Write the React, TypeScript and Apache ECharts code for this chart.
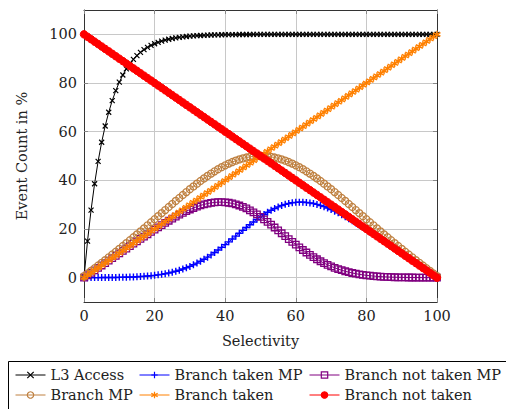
import React, { useEffect, useRef } from "react";
import * as echarts from "echarts";

const selectivity = [
  0, 1, 2, 3, 4, 5, 6, 7, 8, 9, 10, 11, 12, 13, 14, 15, 16, 17, 18, 19,
  20, 21, 22, 23, 24, 25, 26, 27, 28, 29, 30, 31, 32, 33, 34, 35, 36, 37, 38, 39,
  40, 41, 42, 43, 44, 45, 46, 47, 48, 49, 50, 51, 52, 53, 54, 55, 56, 57, 58, 59,
  60, 61, 62, 63, 64, 65, 66, 67, 68, 69, 70, 71, 72, 73, 74, 75, 76, 77, 78, 79,
  80, 81, 82, 83, 84, 85, 86, 87, 88, 89, 90, 91, 92, 93, 94, 95, 96, 97, 98, 99, 100,
];

const l3Access = [
  0, 15.01, 27.77, 38.61, 47.82, 55.65, 62.31, 67.97, 72.78, 76.86,
  80.34, 83.29, 85.8, 87.93, 89.74, 91.28, 92.59, 93.7, 94.65, 95.45,
  96.13, 96.71, 97.21, 97.63, 97.98, 98.29, 98.54, 98.76, 98.95, 99.1,
  99.24, 99.35, 99.45, 99.53, 99.6, 99.66, 99.71, 99.76, 99.79, 99.82,
  99.85, 99.87, 99.89, 99.91, 99.92, 99.93, 99.94, 99.95, 99.96, 99.97,
  99.97, 99.98, 99.98, 99.98, 99.98, 99.98, 99.99, 99.99, 99.99, 99.99,
  99.99, 99.99, 99.99, 99.99, 99.99, 100, 100, 100, 100, 100,
  100, 100, 100, 100, 100, 100, 100, 100, 100, 100,
  100, 100, 100, 100, 100, 100, 100, 100, 100, 100,
  100, 100, 100, 100, 100, 100, 100, 100, 100, 100, 100,
];

const branchTakenMP = [
  0.01, 0.01, 0.02, 0.02, 0.03, 0.04, 0.05, 0.06, 0.07, 0.09,
  0.12, 0.15, 0.18, 0.23, 0.29, 0.36, 0.45, 0.54, 0.66, 0.8,
  0.96, 1.15, 1.37, 1.63, 1.92, 2.26, 2.63, 3.06, 3.54, 4.06,
  4.64, 5.29, 5.98, 6.74, 7.56, 8.43, 9.36, 10.34, 11.37, 12.45,
  13.57, 14.71, 15.88, 17.06, 18.26, 19.44, 20.62, 21.77, 22.89, 23.97,
  25.0,
  25.97, 26.87, 27.69, 28.44, 29.09, 29.66, 30.13, 30.5, 30.78, 30.96,
  31.04, 31.03, 30.92, 30.73, 30.46, 30.11, 29.68, 29.18, 28.63, 28.01,
  27.34, 26.63, 25.87, 25.07, 24.25, 23.39, 22.51, 21.61, 20.69, 19.76,
  18.81, 17.85, 16.89, 15.92, 14.94, 13.95, 12.96, 11.97, 10.98, 9.99,
  8.99, 7.99, 7.0, 6.0, 5.0, 4.0, 3.0, 2.0, 1.0, 0.0,
];

const branchNotTakenMP = [
  0.0, 1.0, 2.0, 3.0, 4.0, 5.0, 6.0, 7.0, 7.99, 8.99,
  9.99, 10.98, 11.97, 12.96, 13.95, 14.94, 15.92, 16.89, 17.85, 18.81,
  19.76, 20.69, 21.61, 22.51, 23.39, 24.25, 25.07, 25.87, 26.63, 27.34,
  28.01, 28.63, 29.18, 29.68, 30.11, 30.46, 30.73, 30.92, 31.03, 31.04,
  30.96, 30.78, 30.5, 30.13, 29.66, 29.09, 28.44, 27.69, 26.87, 25.97,
  25.0,
  23.97, 22.89, 21.77, 20.62, 19.44, 18.26, 17.06, 15.88, 14.71, 13.57,
  12.45, 11.37, 10.34, 9.36, 8.43, 7.56, 6.74, 5.98, 5.29, 4.64,
  4.06, 3.54, 3.06, 2.63, 2.26, 1.92, 1.63, 1.37, 1.15, 0.96,
  0.8, 0.66, 0.54, 0.45, 0.36, 0.29, 0.23, 0.18, 0.15, 0.12,
  0.09, 0.07, 0.06, 0.05, 0.04, 0.03, 0.02, 0.02, 0.01, 0.01,
];

const branchMP = [
  0.62, 1.7, 2.79, 3.88, 4.98, 6.1, 7.22, 8.36, 9.5, 10.66,
  11.82, 13.0, 14.18, 15.38, 16.59, 17.8, 19.03, 20.26, 21.51, 22.75,
  24.01, 25.27, 26.52, 27.78, 29.03, 30.28, 31.52, 32.75, 33.97, 35.17,
  36.35, 37.5, 38.63, 39.72, 40.78, 41.8, 42.77, 43.7, 44.58, 45.41,
  46.17, 46.87, 47.51, 48.08, 48.59, 49.01, 49.37, 49.64, 49.84, 49.96,
  50.0,
  49.96, 49.84, 49.64, 49.37, 49.01, 48.59, 48.08, 47.51, 46.87, 46.17,
  45.41, 44.58, 43.7, 42.77, 41.8, 40.78, 39.72, 38.63, 37.5, 36.35,
  35.17, 33.97, 32.75, 31.52, 30.28, 29.03, 27.78, 26.52, 25.27, 24.01,
  22.75, 21.51, 20.26, 19.03, 17.8, 16.59, 15.38, 14.18, 13.0, 11.82,
  10.66, 9.5, 8.36, 7.22, 6.1, 4.98, 3.88, 2.79, 1.7, 0.62,
];

const branchTaken = [
  0, 1, 2, 3, 4, 5, 6, 7, 8, 9, 10, 11, 12, 13, 14, 15, 16, 17, 18, 19,
  20, 21, 22, 23, 24, 25, 26, 27, 28, 29, 30, 31, 32, 33, 34, 35, 36, 37, 38, 39,
  40, 41, 42, 43, 44, 45, 46, 47, 48, 49, 50, 51, 52, 53, 54, 55, 56, 57, 58, 59,
  60, 61, 62, 63, 64, 65, 66, 67, 68, 69, 70, 71, 72, 73, 74, 75, 76, 77, 78, 79,
  80, 81, 82, 83, 84, 85, 86, 87, 88, 89, 90, 91, 92, 93, 94, 95, 96, 97, 98, 99, 100,
];

const branchNotTaken = [
  100, 99, 98, 97, 96, 95, 94, 93, 92, 91, 90, 89, 88, 87, 86, 85, 84, 83, 82, 81,
  80, 79, 78, 77, 76, 75, 74, 73, 72, 71, 70, 69, 68, 67, 66, 65, 64, 63, 62, 61,
  60, 59, 58, 57, 56, 55, 54, 53, 52, 51, 50, 49, 48, 47, 46, 45, 44, 43, 42, 41,
  40, 39, 38, 37, 36, 35, 34, 33, 32, 31, 30, 29, 28, 27, 26, 25, 24, 23, 22, 21,
  20, 19, 18, 17, 16, 15, 14, 13, 12, 11, 10, 9, 8, 7, 6, 5, 4, 3, 2, 1, 0,
];

const yTicks = [0, 20, 40, 60, 80, 100];

const legendRows = [
  ["L3 Access", "Branch taken MP", "Branch not taken MP"],
  ["Branch MP", "Branch taken", "Branch not taken"],
];

export default function App() {
  const ref = useRef<HTMLDivElement>(null);

  useEffect(() => {
    document.body.style.margin = "0";
    const chart = echarts.init(ref.current!, null, { renderer: "svg" });
    const font = "DejaVu Serif";
    const fs = 14.5;
    const pair = (ys: number[]) => selectivity.map((x, i) => [x, ys[i]]);

    const cross = "path://M0,0L10,10M10,0L0,10";
    const plus = "path://M5,0L5,10M0,5L10,5";
    const star = "path://M5,0L5,10M0.67,2.5L9.33,7.5M0.67,7.5L9.33,2.5";

    const mk = (
      name: string,
      ys: number[],
      color: string,
      symbol: string,
      size: number,
      fill: string,
      bw: number
    ) => ({
      name,
      type: "line",
      data: pair(ys),
      symbol,
      symbolSize: size,
      showAllSymbol: true,
      lineStyle: { color, width: 1 },
      itemStyle: { color: fill, borderColor: color, borderWidth: bw },
      emphasis: { disabled: true },
    });

    const axisLineStyle = { color: "#333", width: 1 };
    const tickStyle = { color: "#888", width: 1 };
    const gridLine = { color: "#c8c8c8", width: 1 };
    const labelStyle = { fontFamily: font, fontSize: fs, color: "#222" };

    const legendCols = [15, 139, 309];
    const legendTops = [375, 395];
    const legends: any[] = [];
    legendRows.forEach((row, r) =>
      row.forEach((name, c) =>
        legends.push({
          data: [name],
          left: legendCols[c],
          top: legendTops[r] - 9,
          padding: 0,
          itemWidth: 30,
          itemHeight: 8,
          selectedMode: false,
          itemStyle: { borderWidth: 1.2 },
          lineStyle: { width: 1 },
          textStyle: { fontFamily: font, fontSize: fs, color: "#222", lineHeight: 18 },
        })
      )
    );

    chart.setOption({
      animation: false,
      textStyle: { fontFamily: font },
      grid: { left: 84, right: 69, top: 10, bottom: 107, containLabel: false },
      xAxis: [
        {
          type: "value",
          min: 0,
          max: 100,
          interval: 20,
          position: "bottom",
          axisLine: { show: true, onZero: false, lineStyle: axisLineStyle },
          axisTick: { show: true, inside: true, length: 4, lineStyle: tickStyle },
          axisLabel: { ...labelStyle, margin: 6 },
          splitLine: { show: true, lineStyle: gridLine },
          name: "Selectivity",
          nameLocation: "middle",
          nameGap: 31,
          nameTextStyle: { fontFamily: font, fontSize: fs, color: "#222" },
        },
        {
          type: "value",
          min: 0,
          max: 100,
          interval: 20,
          position: "top",
          axisLine: { show: true, onZero: false, lineStyle: axisLineStyle },
          axisTick: { show: true, inside: true, length: 4, lineStyle: tickStyle },
          axisLabel: { show: false },
          splitLine: { show: false },
        },
      ],
      yAxis: [
        {
          type: "value",
          min: -10,
          max: 110,
          position: "left",
          axisLine: { show: true, onZero: false, lineStyle: axisLineStyle },
          axisTick: { show: true, inside: true, length: 4, lineStyle: tickStyle, customValues: yTicks },
          axisLabel: { ...labelStyle, margin: 7, customValues: yTicks },
          splitLine: { show: true, lineStyle: gridLine },
          name: "Event Count in %",
          nameLocation: "middle",
          nameRotate: 90,
          nameGap: 55,
          nameTextStyle: { fontFamily: font, fontSize: fs, color: "#222" },
        },
        {
          type: "value",
          min: -10,
          max: 110,
          position: "right",
          axisLine: { show: true, onZero: false, lineStyle: axisLineStyle },
          axisTick: { show: true, inside: true, length: 4, lineStyle: tickStyle, customValues: yTicks },
          axisLabel: { show: false },
          splitLine: { show: false },
        },
      ],
      legend: legends,
      graphic: [
        {
          type: "rect",
          silent: true,
          shape: { x: 8.5, y: 361.5, width: 520, height: 80 },
          style: { fill: "none", stroke: "#000", lineWidth: 1 },
        },
      ],
      series: [
        mk("L3 Access", l3Access, "#000000", cross, 5, "#000000", 1.2),
        mk("Branch taken MP", branchTakenMP, "#0000ff", plus, 7, "#0000ff", 1.4),
        mk("Branch not taken MP", branchNotTakenMP, "#800080", "rect", 6.5, "transparent", 1.3),
        mk("Branch MP", branchMP, "#bf8040", "circle", 7, "transparent", 1.3),
        mk("Branch taken", branchTaken, "#ff8000", star, 7, "#ff8000", 1.4),
        mk("Branch not taken", branchNotTaken, "#ff0000", "circle", 7.5, "#ff0000", 1),
      ],
    });

    return () => chart.dispose();
  }, []);

  return <div ref={ref} style={{ width: 506, height: 409 }} />;
}
